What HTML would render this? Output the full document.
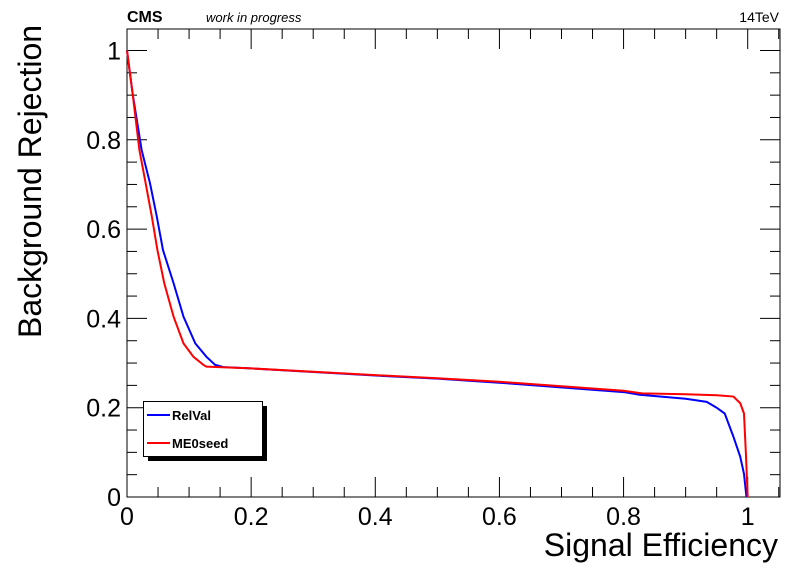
<!DOCTYPE html>
<html><head><meta charset="utf-8"><style>
body{margin:0;background:#fff}
svg text{font-family:"Liberation Sans",Arial,sans-serif}
</style></head><body>
<svg id="chart" width="796" height="572">
<text x="127" y="22" font-size="16" font-weight="bold">CMS</text>
<text x="206" y="22" font-size="13" font-style="italic">work in progress</text>
<text x="779" y="22" font-size="14" text-anchor="end">14TeV</text>
<g id="axes"></g>
<g id="series"></g>
<text x="778" y="556" font-size="32" text-anchor="end">Signal Efficiency</text>
<text transform="translate(41,338) rotate(-90)" font-size="32" text-anchor="start">Background Rejection</text>
<g>
<rect x="148" y="406" width="119" height="55" fill="#000"/>
<rect x="143.5" y="401.5" width="119" height="55" fill="#fff" stroke="#000"/>
<line x1="147" y1="415" x2="170" y2="415" stroke="#00f" stroke-width="2"/>
<text x="172" y="420" font-size="13" font-weight="bold">RelVal</text>
<line x1="147" y1="443" x2="170" y2="443" stroke="#f00" stroke-width="2"/>
<text x="172" y="448" font-size="13" font-weight="bold">ME0seed</text>
</g>
</svg>
<script>
const xTicks=[0,0.2,0.4,0.6,0.8,1];
const xTickLabels=["0","0.2","0.4","0.6","0.8","1"];
const yTicks=[0,0.2,0.4,0.6,0.8,1];
const yTickLabels=["0","0.2","0.4","0.6","0.8","1"];
const blueX=[0,0.009,0.0236,0.037,0.048,0.058,0.075,0.091,0.110,0.128,0.142,0.155,0.2,0.4,0.5,0.6,0.8,0.826,0.9,0.934,0.95,0.963,0.977,0.988,0.994,0.998];
const blueY=[1,0.904,0.777,0.703,0.628,0.553,0.479,0.404,0.344,0.314,0.296,0.291,0.288,0.272,0.265,0.256,0.235,0.229,0.22,0.213,0.2,0.187,0.135,0.09,0.052,0.0];
const redX=[0,0.009,0.020,0.030,0.040,0.049,0.060,0.075,0.091,0.107,0.123,0.128,0.2,0.4,0.5,0.6,0.8,0.83,0.9,0.95,0.977,0.988,0.994,0.997,1.0];
const redY=[1,0.904,0.777,0.703,0.628,0.553,0.479,0.404,0.344,0.314,0.296,0.292,0.288,0.273,0.266,0.258,0.238,0.232,0.23,0.228,0.225,0.21,0.187,0.1,0.0];
const X0=127,X1=780,Y0=497,Y1=29;
const sx=v=>127+v*620.7, sy=v=>497-v*446.5;
const NS="http://www.w3.org/2000/svg";
function mk(t,a,p){const e=document.createElementNS(NS,t);for(const k in a)e.setAttribute(k,a[k]);p.appendChild(e);return e;}
const ax=document.getElementById('axes');
const fr=mk('rect',{x:X0,y:Y1,width:X1-X0,height:Y0-Y1,fill:'none',stroke:'#000','stroke-width':1},ax);


for(let i=0;i<=21;i++){const v=i*0.05,x=sx(v);if(x>X1)break;const L=i%4==0?20:10;
mk('line',{x1:x,y1:Y0,x2:x,y2:Y0-L,stroke:'#000'},ax);mk('line',{x1:x,y1:Y1,x2:x,y2:Y1+L,stroke:'#000'},ax);}
for(let i=0;i<=21;i++){const v=i*0.05,y=sy(v);if(y<Y1)break;const L=i%4==0?20:10;
mk('line',{x1:X0,y1:y,x2:X0+L,y2:y,stroke:'#000'},ax);mk('line',{x1:X1,y1:y,x2:X1-L,y2:y,stroke:'#000'},ax);}
xTicks.forEach((v,i)=>{const t=mk('text',{x:sx(v),y:525,'font-size':25,'text-anchor':'middle'},ax);t.textContent=xTickLabels[i];

});
yTicks.forEach((v,i)=>{const t=mk('text',{x:121,y:sy(v)+9,'font-size':25,'text-anchor':'end'},ax);t.textContent=yTickLabels[i];

});
const sg=document.getElementById('series');
function line(xs,ys,c,n){const p=mk('polyline',{points:xs.map((x,i)=>sx(x)+','+sy(ys[i])).join(' '),fill:'none',stroke:c,'stroke-width':2},sg);

}
line(blueX,blueY,'#00f','relval-curve');
line(redX,redY,'#f00','me0seed-curve');
</script>
</body></html>
